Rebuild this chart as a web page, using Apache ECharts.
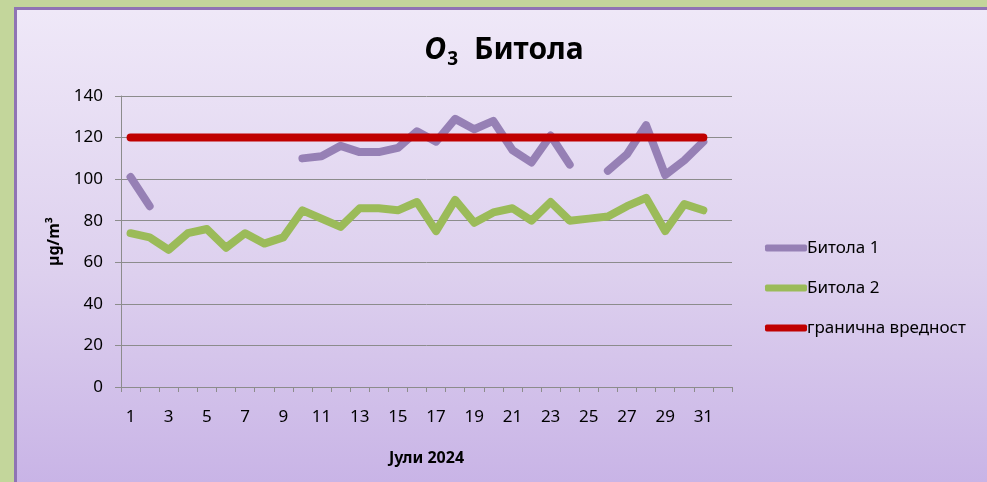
<!DOCTYPE html>
<html>
<head>
<meta charset="utf-8">
<script src="https://cdn.jsdelivr.net/npm/echarts@6/dist/echarts.min.js"></script>
<style>
  html, body { margin: 0; padding: 0; background: #c3d69b; }
  #frame {
    position: absolute; left: 14px; top: 7px; width: 980px; height: 480px;
    border-left: 3px solid #8f74b4; border-top: 3px solid #8f74b4;
    background: linear-gradient(to bottom, #efe8f8 0%, #ddd0ee 55%, #c8b3e6 100%);
  }
  #chart { position: absolute; left: 0; top: 0; width: 987px; height: 482px; }
</style>
</head>
<body>
<div id="frame"></div>
<div id="chart"></div>
<script>
// days of July 2024 (32 slots, last one empty like the original sheet)
const days = ['1', '2', '3', '4', '5', '6', '7', '8', '9', '10', '11', '12', '13', '14', '15', '16',
  '17', '18', '19', '20', '21', '22', '23', '24', '25', '26', '27', '28', '29', '30', '31', '32']

const bitola1 = [101, 87, null, null, null, null, null, null, null, 110, 111, 116, 113, 113, 115, 123,
  118, 129, 124, 128, 114, 108, 121, 107, null, 104, 112, 126, 102, 109, 118, null]

const bitola2 = [74, 72, 66, 74, 76, 67, 74, 69, 72, 85, 81, 77, 86, 86, 85, 89,
  75, 90, 79, 84, 86, 80, 89, 80, 81, 82, 87, 91, 75, 88, 85, null]

const limit = [120, 120, 120, 120, 120, 120, 120, 120, 120, 120, 120, 120, 120, 120, 120, 120,
  120, 120, 120, 120, 120, 120, 120, 120, 120, 120, 120, 120, 120, 120, 120, null]

const font = 'Noto Sans'

const chart = echarts.init(document.getElementById('chart'))

function lineSeries(name, data, color) {
  return {
    name: name,
    type: 'line',
    data: data,
    showSymbol: false,
    connectNulls: false,
    lineStyle: { width: 8, color: color, cap: 'round', join: 'round' },
    itemStyle: { color: color }
  }
}

chart.setOption({
  backgroundColor: 'transparent',
  textStyle: { fontFamily: font, color: '#000' },
  title: {
    text: '{o|O}{s|3} Битола',
    left: 499,
    textAlign: 'center',
    top: 27,
    textStyle: {
      rich: {
        o: { fontSize: 30, fontWeight: 'bold', fontStyle: 'italic', fontFamily: font, color: '#000' },
        s: { fontSize: 19, fontWeight: 'bold', fontFamily: font, color: '#000', padding: [18, 8, 0, 1] }
      },
      fontSize: 30,
      fontWeight: 'bold',
      fontFamily: font,
      color: '#000'
    }
  },
  legend: {
    orient: 'vertical',
    left: 760,
    top: 233,
    icon: 'roundRect',
    itemWidth: 42,
    itemHeight: 7,
    itemGap: 20,
    textStyle: { fontSize: 17, fontFamily: font, color: '#000', lineHeight: 20, padding: [0, 0, 0, -5] },
    data: ['Битола 1', 'Битола 2', 'гранична вредност']
  },
  grid: { left: 121, right: 255, top: 96, bottom: 95 },
  xAxis: {
    type: 'category',
    data: days,
    boundaryGap: true,
    name: 'Јули 2024',
    nameLocation: 'middle',
    nameGap: 63,
    nameTextStyle: { fontSize: 16, fontWeight: 'bold', fontFamily: font, color: '#000' },
    axisLine: { lineStyle: { color: '#8c8c8c', width: 1 } },
    axisTick: { show: true, alignWithLabel: false, interval: 0, length: 5, lineStyle: { color: '#8c8c8c' } },
    axisLabel: {
      interval: function (i) { return i % 2 === 0 && i < 31 },
      fontSize: 17, color: '#000', margin: 22
    },
    splitLine: { show: false }
  },
  yAxis: {
    type: 'value',
    min: 0,
    max: 140,
    interval: 20,
    name: 'µg/m³',
    nameLocation: 'middle',
    nameGap: 40,
    nameRotate: 90,
    nameTextStyle: { fontSize: 16, fontWeight: 'bold', fontFamily: font, color: '#000' },
    axisLine: { show: true, lineStyle: { color: '#8c8c8c', width: 1 } },
    axisTick: { show: true, length: 6, inside: false, lineStyle: { color: '#8c8c8c' } },
    axisLabel: { fontSize: 17, color: '#000', margin: 18 },
    splitLine: { lineStyle: { color: '#8c8c8c', width: 1 } }
  },
  series: [
    lineSeries('Битола 1', bitola1, '#9680b5'),
    lineSeries('Битола 2', bitola2, '#9bbb59'),
    lineSeries('гранична вредност', limit, '#c00000')
  ]
})
</script>
</body>
</html>
